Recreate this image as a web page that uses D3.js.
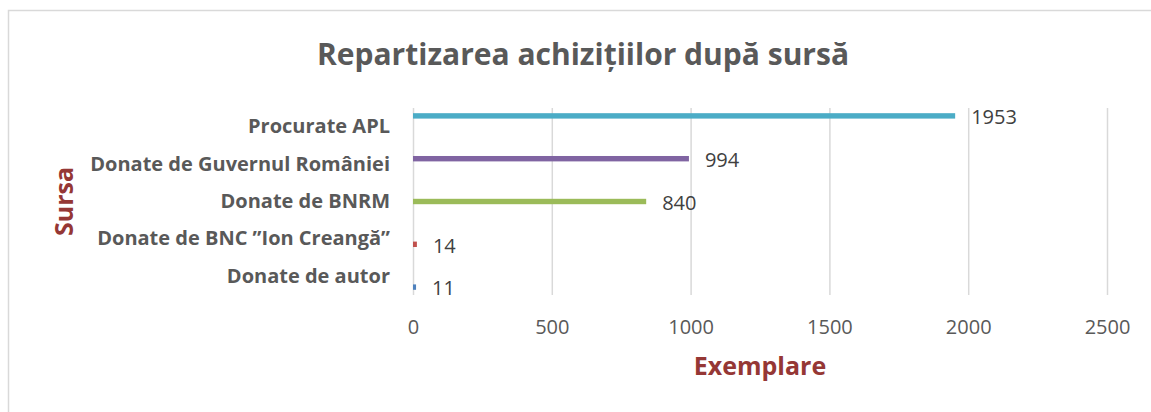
<!DOCTYPE html>
<html>
<head>
<meta charset="utf-8">
<script src="https://cdn.jsdelivr.net/npm/d3@7"></script>
<style>
  body { margin: 0; background: #fff; }
  svg { display: block; font-family: "Open Sans", "Noto Sans", sans-serif; }
</style>
</head>
<body>
<div id="chart"></div>
<script>
// categories top to bottom, one series per category (as in the source sheet)
var categories = ["Procurate APL", "Donate de Guvernul României", "Donate de BNRM",
                  "Donate de BNC \u201DIon Creangă\u201D", "Donate de autor"];
var values     = [1953, 994, 840, 14, 11];
var colors     = ["#4BACC6", "#8064A2", "#9BBB59", "#C0504D", "#4F81BD"];
var xTicks     = [0, 500, 1000, 1500, 2000, 2500];

var W = 1151, H = 412;
var plot = {left: 413, right: 1107, top: 108, bottom: 295};

var svg = d3.select("#chart").append("svg")
    .attr("width", W)
    .attr("height", H);

// outer frame of the chart area
svg.append("rect")
    .attr("x", 8.5).attr("y", 10.5)
    .attr("width", W + 20).attr("height", H + 20)
    .attr("fill", "none")
    .attr("stroke", "#d9d9d9")
    .attr("stroke-width", 1.5);

var xScale = d3.scaleLinear().domain([0, 2500]).range([plot.left, plot.right]);
var yScale = d3.scaleBand().domain(categories).range([plot.top, plot.bottom]);
// each series gets its own slot inside every category band
var slot   = d3.scaleBand().domain(categories).range([0, yScale.bandwidth()])
    .paddingInner(0).paddingOuter(0.96);

// gridlines
svg.append("g")
    .attr("transform", "translate(0," + plot.bottom + ")")
    .call(d3.axisBottom(xScale).tickValues(xTicks)
          .tickSize(-(plot.bottom - plot.top)).tickFormat(""))
    .call(function (g) {
      g.select(".domain").remove();
      g.selectAll(".tick line").attr("stroke", "#d9d9d9").attr("stroke-width", 1.5);
    });

// x tick labels
svg.append("g")
    .attr("transform", "translate(0," + plot.bottom + ")")
    .call(d3.axisBottom(xScale).tickValues(xTicks).tickFormat(d3.format("d"))
          .tickSize(0).tickPadding(25))
    .call(function (g) {
      g.select(".domain").remove();
      g.selectAll(".tick text")
        .attr("font-family", "'Open Sans', sans-serif")
        .attr("font-size", 20)
        .attr("fill", "#595959");
    });

// y category labels
svg.append("g")
    .attr("transform", "translate(" + plot.left + ",0)")
    .call(d3.axisLeft(yScale).tickSize(0).tickPadding(23))
    .call(function (g) {
      g.select(".domain").remove();
      g.selectAll(".tick text")
        .attr("font-family", "'Open Sans', sans-serif")
        .attr("font-size", 20)
        .attr("font-weight", "bold")
        .attr("fill", "#595959");
    });

// bars
svg.append("g").selectAll("rect")
    .data(categories)
    .enter().append("rect")
    .attr("x", xScale(0))
    .attr("y", function (d) { return yScale(d) + slot(d); })
    .attr("width", function (d, i) { return xScale(values[i]) - xScale(0); })
    .attr("height", slot.bandwidth())
    .attr("fill", function (d, i) { return colors[i]; });

// value labels
svg.append("g").selectAll("text")
    .data(categories)
    .enter().append("text")
    .attr("x", function (d, i) { return xScale(values[i]) + 16; })
    .attr("y", function (d) { return yScale(d) + slot(d) + slot.bandwidth() / 2 + 3; })
    .attr("dominant-baseline", "middle")
    .attr("font-size", 20)
    .attr("fill", "#404040")
    .text(function (d, i) { return values[i]; });

// title
svg.append("text")
    .attr("x", 583).attr("y", 65)
    .attr("text-anchor", "middle")
    .attr("font-size", 30)
    .attr("font-weight", "bold")
    .attr("fill", "#595959")
    .text("Repartizarea achizi\u021Biilor după sursă");

// axis titles
svg.append("text")
    .attr("x", (plot.left + plot.right) / 2).attr("y", 375)
    .attr("text-anchor", "middle")
    .attr("font-size", 25)
    .attr("font-weight", "bold")
    .attr("fill", "#953735")
    .text("Exemplare");

svg.append("text")
    .attr("transform", "translate(73," + ((plot.top + plot.bottom) / 2) + ") rotate(-90)")
    .attr("text-anchor", "middle")
    .attr("font-size", 25)
    .attr("font-weight", "bold")
    .attr("fill", "#953735")
    .text("Sursa");
</script>
</body>
</html>
